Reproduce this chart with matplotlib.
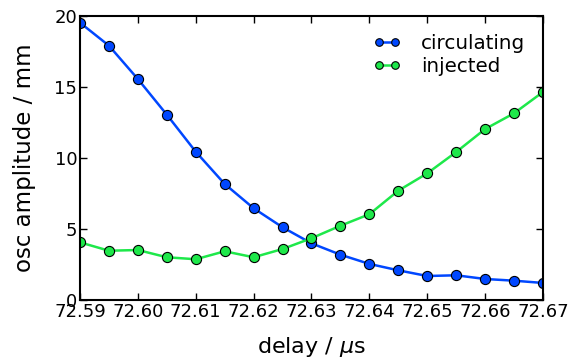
import matplotlib.pyplot as plt
import numpy as np

# --- dados ---
delay = [72.590, 72.595, 72.600, 72.605, 72.610, 72.615, 72.620, 72.625, 72.630,
         72.635, 72.640, 72.645, 72.650, 72.655, 72.660, 72.665, 72.670]
circulating = [19.53, 17.91, 15.56, 13.05, 10.44, 8.17, 6.46, 5.12, 3.99,
               3.19, 2.54, 2.09, 1.69, 1.74, 1.48, 1.36, 1.20]
injected = [4.06, 3.47, 3.52, 3.01, 2.87, 3.43, 3.01, 3.59, 4.35,
            5.23, 6.04, 7.70, 8.92, 10.42, 12.04, 13.15, 14.65]
xticks = [72.59, 72.60, 72.61, 72.62, 72.63, 72.64, 72.65, 72.66, 72.67]
yticks = [0, 5, 10, 15, 20]

AZUL = '#0047ff'
VERDE = '#1ee84a'

plt.rcParams['font.family'] = ['DejaVu Sans']
plt.rcParams['mathtext.fontset'] = 'dejavusans'

fig = plt.figure(figsize=(5.78, 3.61), dpi=100)
ax = fig.add_axes([80 / 578, 1 - 300 / 361, 463 / 578, 284 / 361])

ax.plot(delay, circulating, '-o', color=AZUL, lw=1.8, ms=7.3,
        mec='black', mew=0.8, label='circulating')
ax.plot(delay, injected, '-o', color=VERDE, lw=1.8, ms=7.3,
        mec='black', mew=0.8, label='injected')

ax.set_xlim(72.59, 72.67)
ax.set_ylim(0, 20)
ax.set_xticks(xticks)
ax.set_xticklabels([f'{v:.2f}' for v in xticks])
ax.set_yticks(yticks)

ax.tick_params(direction='in', top=True, right=True, length=5, width=1,
               labelsize=13, pad=2)
for s in ax.spines.values():
    s.set_linewidth(1.5)

ax.set_xlabel(r'delay / $\mu$s', fontsize=16, labelpad=10)
ax.set_ylabel('osc amplitude / mm', fontsize=16.5, labelpad=13)

ax.legend(loc='upper right', frameon=False, numpoints=2, markerscale=0.75,
          fontsize=14.3, handlelength=1.4, handletextpad=1.0,
          borderaxespad=0.5, labelspacing=0.2)

fig.savefig('out.png', dpi=100)
